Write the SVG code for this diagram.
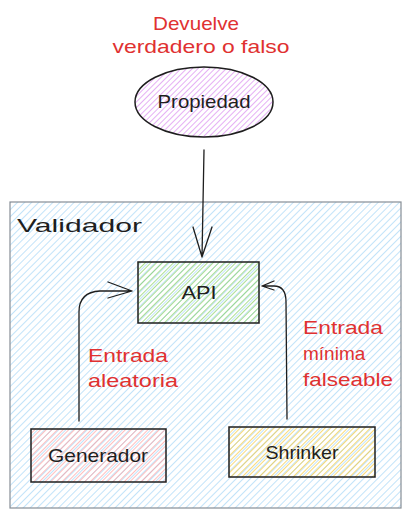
<svg xmlns="http://www.w3.org/2000/svg" width="411" height="519" viewBox="0 0 411 519">
<defs>
<pattern id="hBlue" width="5" height="5" patternUnits="userSpaceOnUse" patternTransform="rotate(45)"><line x1="0" y1="0" x2="0" y2="5" stroke="#99d0f5" stroke-width="1.2"/></pattern>
<pattern id="hPurple" width="4" height="4" patternUnits="userSpaceOnUse" patternTransform="rotate(45)"><line x1="0" y1="0" x2="0" y2="4" stroke="#da8cef" stroke-width="1.4"/></pattern>
<pattern id="hGreen" width="4" height="4" patternUnits="userSpaceOnUse" patternTransform="rotate(45)"><line x1="0" y1="0" x2="0" y2="4" stroke="#8fd36f" stroke-width="1.5"/></pattern>
<pattern id="hRed" width="4" height="4" patternUnits="userSpaceOnUse" patternTransform="rotate(45)"><line x1="0" y1="0" x2="0" y2="4" stroke="#ff9a9a" stroke-width="1.3"/></pattern>
<pattern id="hYellow" width="4" height="4" patternUnits="userSpaceOnUse" patternTransform="rotate(45)"><line x1="0" y1="0" x2="0" y2="4" stroke="#f6cc3e" stroke-width="1.4"/></pattern>
</defs>
<style>
.lbl{font-family:"Liberation Sans","DejaVu Sans",sans-serif;font-size:19px;fill:#1e1e1e}
.red{font-family:"Liberation Sans","DejaVu Sans",sans-serif;font-size:19px;fill:#e03131}
.edge{fill:none;stroke:#1e1e1e;stroke-width:1.3;stroke-linecap:round;stroke-linejoin:round}
.box{stroke:#1e1e1e;stroke-width:1.5}
</style>
<g id="validador">
<rect x="10" y="202" width="391" height="306" fill="url(#hBlue)" stroke="#868e96" stroke-width="1.2"/>
<text class="lbl" x="17" y="232" font-size="25" textLength="125" lengthAdjust="spacingAndGlyphs">Validador</text>
</g>
<g id="nota-propiedad">
<text class="red" x="196" y="30" text-anchor="middle" textLength="86" lengthAdjust="spacingAndGlyphs">Devuelve</text>
<text class="red" x="201" y="53" text-anchor="middle" textLength="177" lengthAdjust="spacingAndGlyphs">verdadero o falso</text>
</g>
<g id="propiedad">
<ellipse cx="204" cy="102" rx="69" ry="35" fill="url(#hPurple)" class="box"/>
<text class="lbl" x="204" y="108" text-anchor="middle" textLength="93" lengthAdjust="spacingAndGlyphs">Propiedad</text>
</g>
<g id="api">
<rect x="138" y="262" width="121" height="61" fill="url(#hGreen)" class="box"/>
<text class="lbl" x="199" y="299" text-anchor="middle" textLength="35" lengthAdjust="spacingAndGlyphs">API</text>
</g>
<g id="generador">
<rect x="31" y="429" width="135" height="53" fill="url(#hRed)" class="box"/>
<text class="lbl" x="98" y="462" text-anchor="middle" textLength="100" lengthAdjust="spacingAndGlyphs">Generador</text>
</g>
<g id="shrinker">
<rect x="229" y="427" width="146" height="50" fill="url(#hYellow)" class="box"/>
<text class="lbl" x="302" y="459" text-anchor="middle" textLength="73" lengthAdjust="spacingAndGlyphs">Shrinker</text>
</g>
<g id="connectors">
<path class="edge" d="M204,150 L202,257 M193,227 L202,257 L212,227"/>
<path class="edge" d="M79,421 L79,312 Q79,292 100,291 L132,291 M108,282 L132,291 L108,298"/>
<path class="edge" d="M287,419 L286,302 Q286,286 274,286 L262,286 M274,281 L262,286 L274,290"/>
</g>
<g id="labels">
<text class="red" x="88" y="362" textLength="80" lengthAdjust="spacingAndGlyphs">Entrada</text>
<text class="red" x="88" y="387" textLength="90" lengthAdjust="spacingAndGlyphs">aleatoria</text>
<text class="red" x="303" y="334" textLength="80" lengthAdjust="spacingAndGlyphs">Entrada</text>
<text class="red" x="303" y="360">mínima</text>
<text class="red" x="303" y="386" textLength="90" lengthAdjust="spacingAndGlyphs">falseable</text>
</g>
</svg>
